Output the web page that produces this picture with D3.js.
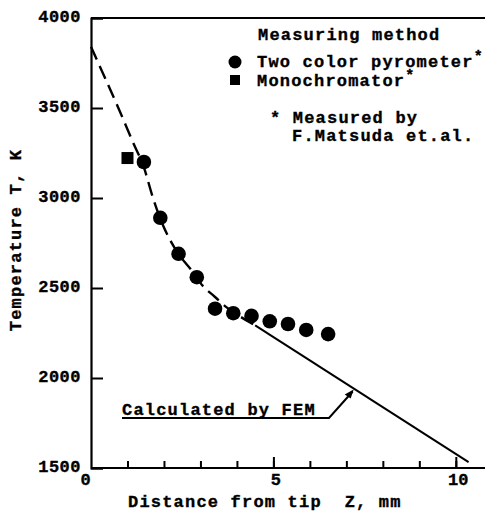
<!DOCTYPE html>
<html><head><meta charset="utf-8">
<script src="https://cdn.jsdelivr.net/npm/d3@7"></script>
<style>
html,body{margin:0;padding:0;background:#fff;}
svg text{font-family:"Liberation Mono","Courier New",monospace;font-weight:bold;fill:#000;stroke:#000;stroke-width:0.35px;}
</style></head>
<body>
<svg id="c" width="485" height="512"></svg>
<script>
// ---- data ----
const xTickValues = [0, 5, 10];
const xMinorTicks = [1,2,3,4,5,6,7,8,9,10];
const yTickValues = [1500, 2000, 2500, 3000, 3500, 4000];
const pyroZ = [1.45, 1.9, 2.4, 2.9, 3.4, 3.9, 4.4, 4.9, 5.4, 5.9, 6.5];
const pyroT = [3200, 2890, 2690, 2560, 2385, 2360, 2345, 2315, 2300, 2267, 2244];
const monoZ = [1.0];
const monoT = [3222];
const femDashZ = [0, 0.4, 0.75, 1.15, 1.45, 1.7, 1.95, 2.2, 2.45, 2.75, 3.05, 3.4, 3.7, 4.1, 4.5];
const femDashT = [3840, 3660, 3500, 3310, 3170, 3000, 2860, 2755, 2675, 2600, 2515, 2450, 2395, 2340, 2292];
const femSolidZ = [4.5, 10.35];
const femSolidT = [2292, 1533];
const legendLabels = ["Two color pyrometer", "Monochromator"];

// ---- scales ----
const svg = d3.select("#c");
const x = d3.scaleLinear().domain([0, 10.8]).range([91, 485]);
const y = d3.scaleLinear().domain([1500, 4000]).range([468, 18]);

// frame
svg.append("line").attr("x1", 91).attr("x2", 485).attr("y1", y(4000)).attr("y2", y(4000)).attr("stroke", "#000").attr("stroke-width", 2);

// axes
const yAxis = d3.axisLeft(y).tickValues(yTickValues).tickSize(-12).tickPadding(10).tickFormat(d3.format("d"));
const ya = svg.append("g").attr("transform", "translate(91,0)").call(yAxis);
ya.select(".domain").attr("stroke-width", 2.2);
ya.selectAll(".tick line").attr("stroke-width", 2);
ya.selectAll(".tick text").attr("font-size", 17).attr("letter-spacing", 0.5).attr("dy", "0.2em");

const xAxisMinor = d3.axisBottom(x).tickValues(xMinorTicks).tickSize(-7).tickFormat("");
const xm = svg.append("g").attr("transform", "translate(0,468)").call(xAxisMinor);
xm.select(".domain").remove();
xm.selectAll(".tick line").attr("stroke-width", 2);

const xAxis = d3.axisBottom(x).tickValues(xTickValues).tickSize(-11).tickPadding(7);
const xa = svg.append("g").attr("transform", "translate(0,468)").call(xAxis);
xa.select(".domain").attr("stroke-width", 2.2).attr("d", "M91,0H485");
xa.selectAll(".tick line").attr("stroke-width", 2).filter(d => d === 0).remove();
xa.selectAll(".tick text").attr("font-size", 17).attr("dy", "0.6em").attr("dx", d => d === 0 ? -6 : 2);

// FEM curve
const line = d3.line().x(d => x(d[0])).y(d => y(d[1]));
svg.append("path").datum(femDashZ.map((z, i) => [z, femDashT[i]]))
  .attr("d", line.curve(d3.curveMonotoneX)).attr("fill", "none").attr("stroke", "#000")
  .attr("stroke-width", 2.4).attr("stroke-dasharray", "14,7");
svg.append("path").datum(femSolidZ.map((z, i) => [z, femSolidT[i]]))
  .attr("d", d3.line().x(d => x(d[0])).y(d => y(d[1]))).attr("fill", "none").attr("stroke", "#000").attr("stroke-width", 2);

// data points
svg.selectAll("circle.pyro").data(pyroZ.map((z, i) => [z, pyroT[i]])).enter().append("circle")
  .attr("class", "pyro").attr("cx", d => x(d[0])).attr("cy", d => y(d[1])).attr("r", 7.3).attr("fill", "#000");
svg.selectAll("rect.mono").data(monoZ.map((z, i) => [z, monoT[i]])).enter().append("rect")
  .attr("class", "mono").attr("x", d => x(d[0]) - 6).attr("y", d => y(d[1]) - 6).attr("width", 12).attr("height", 12).attr("fill", "#000");

// annotation
const tipZ = 7.2;
const tipT = femSolidT[0] + (femSolidT[1] - femSolidT[0]) * (tipZ - femSolidZ[0]) / (femSolidZ[1] - femSolidZ[0]);
const tx = x(tipZ), ty = y(tipT);
svg.append("text").attr("x", 122).attr("y", 415).attr("font-size", 17).attr("letter-spacing", 1.2).text("Calculated by FEM");
svg.append("path").attr("d", `M122,418H329L${tx - 1},${ty + 3}`).attr("fill", "none").attr("stroke", "#000").attr("stroke-width", 2);
svg.append("path").attr("d", `M${tx},${ty + 1}L${tx - 9},${ty + 6}L${tx - 3},${ty + 10}Z`).attr("fill", "#000");

// legend
svg.append("text").attr("x", 258).attr("y", 40).attr("font-size", 17).attr("letter-spacing", 1.2).text("Measuring method");
svg.append("circle").attr("cx", 235).attr("cy", 62).attr("r", 6.5).attr("fill", "#000");
svg.append("rect").attr("x", 230).attr("y", 75).attr("width", 10).attr("height", 10).attr("fill", "#000");
const l1 = svg.append("text").attr("x", 257).attr("y", 67).attr("font-size", 17).attr("letter-spacing", 1.2);
l1.append("tspan").text(legendLabels[0]);
l1.append("tspan").attr("dy", -6).attr("font-size", 15).text("*");
const l2 = svg.append("text").attr("x", 257).attr("y", 86).attr("font-size", 17).attr("letter-spacing", 1.2);
l2.append("tspan").text(legendLabels[1]);
l2.append("tspan").attr("dy", -6).attr("font-size", 15).text("*");
svg.append("text").attr("x", 270).attr("y", 123).attr("font-size", 17).attr("letter-spacing", 1.2).text("* Measured by");
svg.append("text").attr("x", 292).attr("y", 141).attr("font-size", 17).attr("letter-spacing", 1.2).text("F.Matsuda et.al.");

// axis titles
svg.append("text").attr("transform", "translate(21,240) rotate(-90)").attr("text-anchor", "middle")
  .attr("font-size", 17).attr("letter-spacing", 1.2).text("Temperature T, K");
svg.append("text").attr("x", 128).attr("y", 507).attr("font-size", 17).attr("letter-spacing", 1.2).style("white-space", "pre").text("Distance from tip  Z, mm");
</script>
</body></html>
